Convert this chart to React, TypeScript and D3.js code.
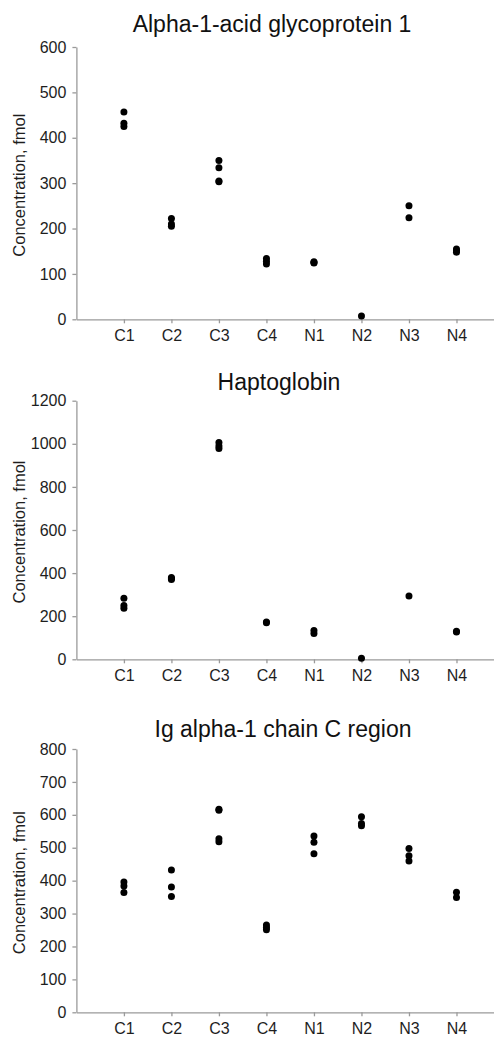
import React, { useEffect, useRef } from 'react';
import * as d3 from 'd3';

// sample groups on the x axis
const categories = ['C1', 'C2', 'C3', 'C4', 'N1', 'N2', 'N3', 'N4'];

const alphaValues = [
  [457, 432, 425],
  [222, 210, 205],
  [350, 334, 305, 303],
  [134, 128, 122],
  [127, 125, 124],
  [7],
  [250, 224],
  [155, 151, 148],
];
const haptoValues = [
  [283, 250, 237],
  [380, 375, 370],
  [1006, 990, 978],
  [173, 170],
  [134, 120],
  [5],
  [294],
  [130, 127],
];
const igaValues = [
  [396, 384, 364],
  [432, 381, 352],
  [617, 614, 527, 518],
  [265, 258, 251],
  [536, 517, 482],
  [594, 574, 567],
  [498, 476, 460],
  [365, 349],
];

const alphaTicks = [0, 100, 200, 300, 400, 500, 600];
const haptoTicks = [0, 200, 400, 600, 800, 1000, 1200];
const igaTicks = [0, 100, 200, 300, 400, 500, 600, 700, 800];

const panels = [
  { title: 'Alpha-1-acid glycoprotein 1', values: alphaValues, ticks: alphaTicks, top: 47, bottom: 319.3, titleY: 32, titleX: 272 },
  { title: 'Haptoglobin', values: haptoValues, ticks: haptoTicks, top: 400.7, bottom: 659.3, titleY: 390, titleX: 279 },
  { title: 'Ig alpha-1 chain C region', values: igaValues, ticks: igaTicks, top: 749, bottom: 1012.3, titleY: 737, titleX: 283 },
];

export default function App() {
  const svgRef = useRef<SVGSVGElement>(null);

  useEffect(() => {
    const w = 494;
    const h = 1037;
    const axisColor = '#9a9a9a';
    const textColor = '#1e1e1e';
    const font = '"Liberation Sans", Arial, sans-serif';
    const svg = d3
      .select(svgRef.current)
      .attr('width', w)
      .attr('height', h)
      .style('background', '#fff')
      .style('font-family', font);
    svg.selectAll('*').remove();

    const x = d3.scaleLinear().domain([0, 9]).range([76.4, 504]);

    panels.forEach((p) => {
      const ticks = p.ticks;
      const y = d3
        .scaleLinear()
        .domain([0, ticks[ticks.length - 1]])
        .range([p.bottom, p.top]);
      const g = svg.append('g');

      // title
      g.append('text')
        .attr('x', p.titleX)
        .attr('y', p.titleY)
        .attr('text-anchor', 'middle')
        .attr('font-size', 23)
        .attr('fill', '#111')
        .text(p.title);

      // y axis
      const yAxis = g
        .append('g')
        .attr('transform', `translate(${x(0)},0)`)
        .call(
          d3
            .axisLeft(y)
            .tickValues(ticks)
            .tickFormat(d3.format('d'))
            .tickSize(4)
            .tickSizeOuter(0)
            .tickPadding(6)
        );
      yAxis.select('.domain').attr('stroke', axisColor).attr('stroke-width', 1.3);
      yAxis.selectAll('.tick line').attr('stroke', axisColor).attr('stroke-width', 1.3);
      yAxis
        .selectAll('.tick text')
        .attr('font-size', 16)
        .attr('fill', textColor)
        .attr('font-family', font);

      // x axis
      const xAxis = g
        .append('g')
        .attr('transform', `translate(0,${p.bottom})`)
        .call(
          d3
            .axisBottom(x)
            .tickValues(d3.range(1, categories.length + 1))
            .tickFormat((d: any) => categories[d - 1])
            .tickSize(4)
            .tickSizeOuter(0)
            .tickPadding(6)
        );
      xAxis.select('.domain').attr('stroke', axisColor).attr('stroke-width', 1.3);
      xAxis.selectAll('.tick line').attr('stroke', axisColor).attr('stroke-width', 1.3);
      xAxis
        .selectAll('.tick text')
        .attr('font-size', 16)
        .attr('fill', textColor)
        .attr('font-family', font);

      // y axis title
      const mid = (p.top + p.bottom) / 2 + 2;
      g.append('text')
        .attr('transform', `translate(25,${mid}) rotate(-90)`)
        .attr('text-anchor', 'middle')
        .attr('font-size', 16.5)
        .attr('fill', textColor)
        .text('Concentration, fmol');

      // points
      const pts: { c: number; v: number }[] = [];
      p.values.forEach((vals, i) => vals.forEach((v) => pts.push({ c: i + 1, v })));
      g.selectAll('.dot')
        .data(pts)
        .join('circle')
        .attr('cx', (d) => x(d.c))
        .attr('cy', (d) => y(d.v))
        .attr('r', 3.5)
        .attr('fill', '#000');
    });
  }, []);

  return (
    <div style={{ position: 'absolute', left: 0, top: 0 }}>
      <svg ref={svgRef} style={{ display: 'block' }}></svg>
    </div>
  );
}
